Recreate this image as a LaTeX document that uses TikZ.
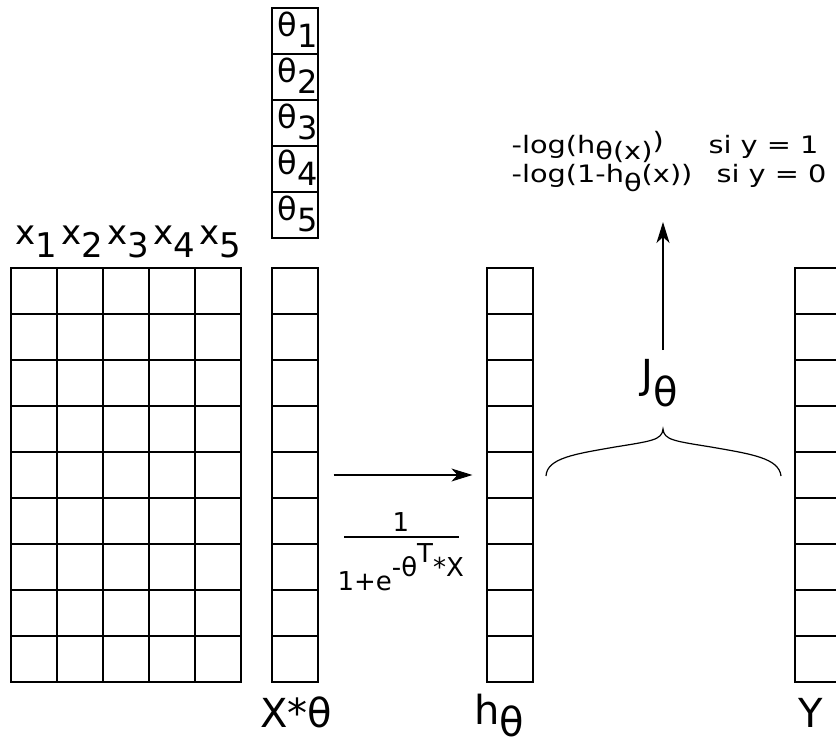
\documentclass[tikz,border=0pt]{standalone}
\usepackage{fontspec}
\setmainfont{DejaVu Sans}
\newfontfamily\widesans[FakeStretch=1.2]{DejaVu Sans}
\usetikzlibrary{arrows.meta, positioning}

\newcommand{\lowr}[1]{\raisebox{-0.36em}{#1}}
\newcommand{\highr}[1]{\raisebox{0.52em}{#1}}

\begin{document}
\begin{tikzpicture}[x=1pt, y=-1pt, line width=1.2pt,
    cell/.style={draw, inner sep=0pt, minimum width=46pt, minimum height=46pt},
    big/.style={inner sep=0pt, font=\fontsize{40}{44}\selectfont},
    mid/.style={inner sep=0pt, font=\fontsize{34}{40}\selectfont},
    frac/.style={inner sep=0pt, font=\fontsize{26}{28}\selectfont},
    small/.style={inner sep=0pt, font=\widesans\fontsize{24}{28}\selectfont},
    arr/.style={-{Stealth[length=21pt, width=13pt, inset=6pt]}}]
    \useasboundingbox (0,0) rectangle (836,746);
    % matrix X with its column labels
    \foreach \c in {1,...,5} {
        \foreach \r in {1,...,9}
            \node[cell] (x-\c-\r) at ({46*\c-12},{46*\r+245}) {};
        \node[mid, anchor=base] (xl-\c) at ({46*\c-10},245) {x\lowr{\c}};
    }
    % theta vector
    \foreach \r in {1,...,5} {
        \node[cell] (th-\r) at (295,{46*\r-15}) {};
        \node[mid, anchor=base west, font=\fontsize{32}{36}\selectfont]
            (thl-\r) at (277,{46*\r-9}) {θ\raisebox{-0.34em}{\r}};
    }
    % columns X*theta, h_theta and Y
    \foreach \r in {1,...,9} {
        \node[cell] (xt-\r) at (295,{46*\r+245}) {};
        \node[cell] (h-\r) at (510,{46*\r+245}) {};
        \node[cell] (y-\r) at (818,{46*\r+245}) {};
    }
    \node[big, anchor=base] (xtl) at (296,727) {X*θ};
    \node[big, anchor=base] (hl) at (499,724) {h\raisebox{-0.32em}{θ}};
    \node[big, anchor=base] (yl) at (811,727) {Y};
    % sigmoid
    \draw[arr, shorten <=15pt, shorten >=14pt] (xt-5.east) -- (h-5.west);
    \node[frac, anchor=base] (num) at (401,531) {1};
    \draw (344,537) -- (459,537);
    \node[frac, anchor=base west] (den) at (337,590) {1+e\highr{-θ\highr{T}*X}};
    % cost
    \draw (546,476) .. controls (547,458) and (575,454) .. (615,447)
        .. controls (652,441) and (662,440) .. (663,429)
        .. controls (664,440) and (674,441) .. (711,447)
        .. controls (751,454) and (779,458) .. (781,476);
    \node[big, anchor=base] (J) at (660,388) {J\raisebox{-0.45em}{θ}};
    \node[small, anchor=base west] (cost1) at (511,154)
        {\makebox[197pt][l]{-log(h\raisebox{-0.25em}{θ(x)}\raisebox{0.2em}{)}}si y = 1};
    \node[small, anchor=base west] (cost2) at (511,183)
        {\makebox[205pt][l]{-log(1-h\raisebox{-0.35em}{θ}(x))}si y = 0};
    \draw[arr] (663,350) -- (663,222);
\end{tikzpicture}
\end{document}
